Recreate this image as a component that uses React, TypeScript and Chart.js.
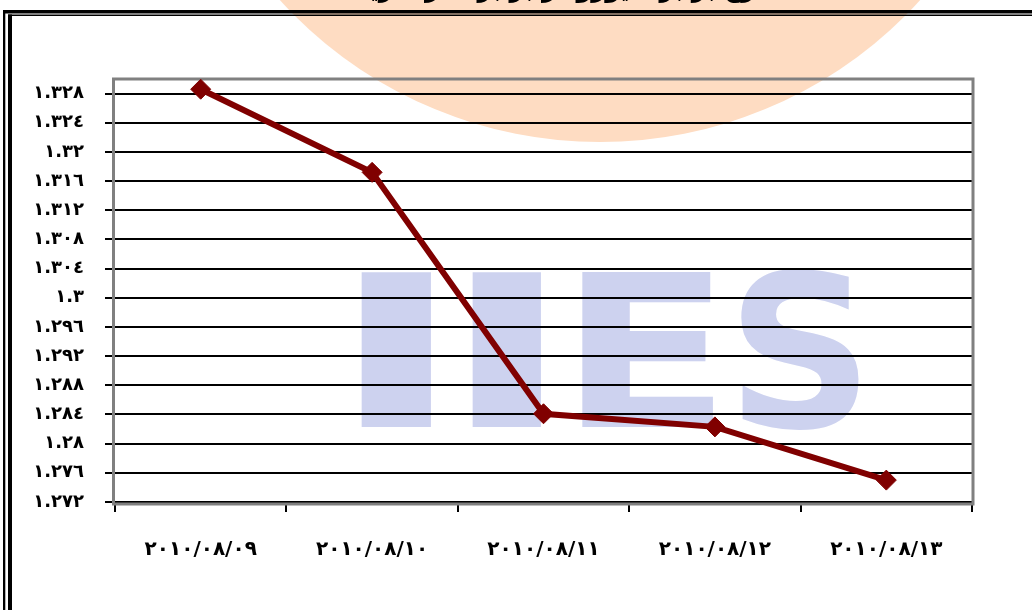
import React, { useEffect, useRef } from "react";
import { Chart, registerables } from "chart.js";

Chart.register(...registerables);

const dateLabels = ["٢٠١٠/٠٨/٠٩", "٢٠١٠/٠٨/١٠", "٢٠١٠/٠٨/١١", "٢٠١٠/٠٨/١٢", "٢٠١٠/٠٨/١٣"];
const rates = [1.3286, 1.3172, 1.2841, 1.2823, 1.275];
const yTickValues = [1.272, 1.276, 1.28, 1.284, 1.288, 1.292, 1.296, 1.3, 1.304, 1.308, 1.312, 1.316, 1.32, 1.324, 1.328];
const yTickLabels = ["١.٢٧٢", "١.٢٧٦", "١.٢٨", "١.٢٨٤", "١.٢٨٨", "١.٢٩٢", "١.٢٩٦", "١.٣", "١.٣٠٤", "١.٣٠٨", "١.٣١٢", "١.٣١٦", "١.٣٢", "١.٣٢٤", "١.٣٢٨"];
const yMin = 1.272;
const yMax = 1.33;
const titleText = "نرخ برابری یورو در برابر دلار آمریکا";
const watermarkText = "IIES";

const FONT = '"DejaVu Sans", sans-serif';

const decorPlugin = {
  id: "decor",
  beforeDraw(chart: any) {
    const ctx = chart.ctx as CanvasRenderingContext2D;
    const W = chart.width;
    const H = chart.height;
    ctx.save();
    ctx.fillStyle = "#ffffff";
    ctx.fillRect(0, 0, W, H);

    // orange emblem
    ctx.fillStyle = "#FEDCC2";
    ctx.beginPath();
    ctx.arc(600, -290, 432, 0, Math.PI * 2);
    ctx.fill();

    // IIES watermark
    const boxes = [
      [361, 272, 70, 155],
      [472, 272, 69, 155],
      [582, 272, 131, 155],
      [741, 268, 118, 162],
    ];
    ctx.fillStyle = "#CDD2EF";
    ctx.font = `bold 200px ${FONT}`;
    ctx.textAlign = "left";
    ctx.textBaseline = "alphabetic";
    watermarkText.split("").forEach((ch, i) => {
      const [bx, by, bw, bh] = boxes[i];
      const m = ctx.measureText(ch);
      const inkW = m.actualBoundingBoxLeft + m.actualBoundingBoxRight;
      const inkH = m.actualBoundingBoxAscent + m.actualBoundingBoxDescent;
      ctx.save();
      ctx.translate(bx, by);
      ctx.scale(bw / inkW, bh / inkH);
      ctx.fillText(ch, m.actualBoundingBoxLeft, m.actualBoundingBoxAscent);
      ctx.restore();
    });

    // frame
    ctx.fillStyle = "#000000";
    ctx.fillRect(3, 10, W - 3, 3.5);
    ctx.fillRect(8, 14.5, W - 8, 1.5);
    ctx.fillRect(3, 10, 2.3, H - 10);
    ctx.fillRect(8, 14.5, 4, H - 14.5);

    // title (cut off at top)
    ctx.font = `bold 24px ${FONT}`;
    ctx.textAlign = "center";
    ctx.textBaseline = "alphabetic";
    ctx.direction = "rtl";
    ctx.fillText(titleText, 556, -3, 477);
    ctx.restore();
  },
  beforeDatasetsDraw(chart: any) {
    const ctx = chart.ctx as CanvasRenderingContext2D;
    const a = chart.chartArea;
    ctx.save();
    ctx.strokeStyle = "#808080";
    ctx.lineWidth = 3;
    ctx.beginPath();
    ctx.moveTo(113.5, a.top);
    ctx.lineTo(a.right + 1, a.top);
    ctx.lineTo(a.right + 1, a.bottom + 2);
    ctx.lineTo(113.5, a.bottom + 2);
    ctx.closePath();
    ctx.stroke();
    ctx.restore();
  },
};

export default function App() {
  const ref = useRef<HTMLCanvasElement>(null);
  useEffect(() => {
    document.body.style.margin = "0";
    const canvas = ref.current!;
    const chart = new Chart(canvas, {
      type: "line",
      data: {
        labels: dateLabels,
        datasets: [
          {
            data: rates,
            borderColor: "#800000",
            backgroundColor: "#800000",
            borderWidth: 6,
            pointStyle: "rectRot",
            pointRadius: 10,
            pointBorderWidth: 1,
            pointBorderColor: "#800000",
            pointBackgroundColor: "#800000",
            tension: 0,
          },
        ],
      },
      options: {
        responsive: false,
        animation: false,
        layout: { padding: { left: 0, right: 60, top: 79, bottom: 0 } },
        plugins: {
          legend: { display: false },
          tooltip: { enabled: false },
          title: { display: false },
        },
        scales: {
          x: {
            offset: true,
            grid: {
              offset: true,
              drawOnChartArea: false,
              drawTicks: true,
              tickLength: 10,
              color: "#000000",
              lineWidth: 2,
            },
            border: { display: false },
            ticks: {
              font: { family: FONT, size: 20, weight: "bold" },
              color: "#000000",
              padding: 26,
              maxRotation: 0,
              autoSkip: false,
            },
            afterFit: (s: any) => {
              s.height = 108;
            },
          },
          y: {
            min: yMin,
            max: yMax,
            afterBuildTicks: (s: any) => {
              s.ticks = yTickValues.map((v) => ({ value: v }));
            },
            grid: { color: "#000000", lineWidth: 2, tickLength: 10 },
            border: { display: false },
            ticks: {
              font: { family: FONT, size: 18, weight: "bold" },
              color: "#000000",
              padding: 21,
              autoSkip: false,
              callback: (_v: any, i: number) => yTickLabels[i],
            },
            afterFit: (s: any) => {
              s.width = 115;
            },
          },
        },
      },
      plugins: [decorPlugin],
    });
    return () => chart.destroy();
  }, []);
  return <canvas ref={ref} width={1032} height={610} style={{ display: "block" }} />;
}
